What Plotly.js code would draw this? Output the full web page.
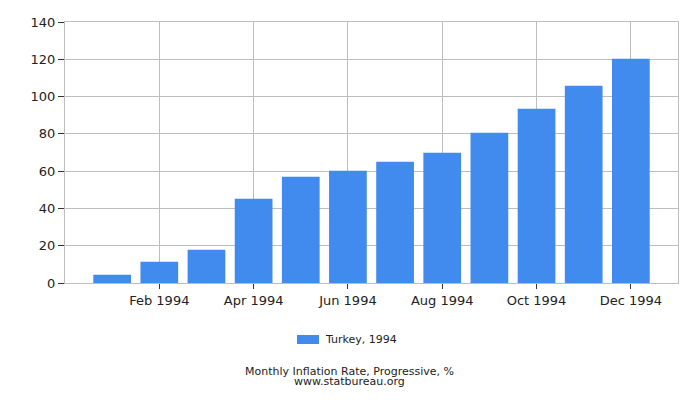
<!DOCTYPE html>
<html>
<head>
<meta charset="utf-8">
<script src="https://cdn.plot.ly/plotly-3.0.1.min.js"></script>
<style>
  html, body { margin: 0; padding: 0; background: #fff; }
  #chart { width: 700px; height: 400px; }
</style>
</head>
<body>
<div id="chart"></div>
<script>
// Turkey, monthly inflation rate (progressive, %), 1994
const months = ['Jan 1994', 'Feb 1994', 'Mar 1994', 'Apr 1994', 'May 1994', 'Jun 1994',
                'Jul 1994', 'Aug 1994', 'Sep 1994', 'Oct 1994', 'Nov 1994', 'Dec 1994'];
const inflation = [4.4, 11.4, 17.9, 45.2, 57.0, 60.2, 65.0, 69.9, 80.6, 93.5, 105.8, 120.3];
const seriesName = 'Turkey, 1994';
const shownTicks = ['Feb 1994', 'Apr 1994', 'Jun 1994', 'Aug 1994', 'Oct 1994', 'Dec 1994'];
const yTicks = [0, 20, 40, 60, 80, 100, 120, 140];
const titleLines = ['Monthly Inflation Rate, Progressive, %', 'www.statbureau.org'];

const barColor = '#418aee';
const smallFont = { family: 'DejaVu Sans, sans-serif', size: 11, color: '#222' };

const trace = {
    type: 'bar',
    x: months,
    y: inflation,
    name: seriesName,
    marker: { color: barColor },
    hoverinfo: 'none'
};

const layout = {
    width: 700,
    height: 400,
    font: { family: 'DejaVu Sans, sans-serif', size: 13, color: '#222' },
    paper_bgcolor: '#fff',
    plot_bgcolor: '#fff',
    margin: { l: 65, r: 22, t: 22, b: 117 },
    bargap: 0.2,
    showlegend: false,
    xaxis: {
        type: 'category',
        range: [-1, 12],
        tickvals: shownTicks,
        ticks: 'outside', ticklen: 5, tickcolor: '#333',
        showgrid: true, gridcolor: '#bdbdbd',
        showline: true, linecolor: '#bdbdbd', mirror: true,
        zeroline: false,
        fixedrange: true
    },
    yaxis: {
        range: [0, 140],
        tickvals: yTicks,
        ticks: 'outside', ticklen: 6, tickcolor: '#333',
        showgrid: true, gridcolor: '#bdbdbd',
        showline: true, linecolor: '#bdbdbd', mirror: true,
        zeroline: false,
        fixedrange: true
    },
    // legend swatch drawn by hand so it gets the wide, flat look of the original
    shapes: [
        {
            type: 'rect', xref: 'paper', yref: 'paper',
            x0: 0.3785, x1: 0.4144, y0: -0.2337, y1: -0.1992,
            fillcolor: barColor, line: { width: 0 }
        }
    ],
    annotations: [
        {
            text: seriesName,
            xref: 'paper', yref: 'paper',
            x: 0.4209, y: -0.2165, xanchor: 'left', yanchor: 'middle',
            showarrow: false, font: smallFont
        },
        {
            text: titleLines[0],
            xref: 'paper', yref: 'paper',
            x: 0.4649, y: -0.3372, xanchor: 'center', yanchor: 'middle',
            showarrow: false, font: smallFont
        },
        {
            text: titleLines[1],
            xref: 'paper', yref: 'paper',
            x: 0.4649, y: -0.3755, xanchor: 'center', yanchor: 'middle',
            showarrow: false, font: smallFont
        }
    ]
};

Plotly.newPlot('chart', [trace], layout, { staticPlot: true });
</script>
</body>
</html>
